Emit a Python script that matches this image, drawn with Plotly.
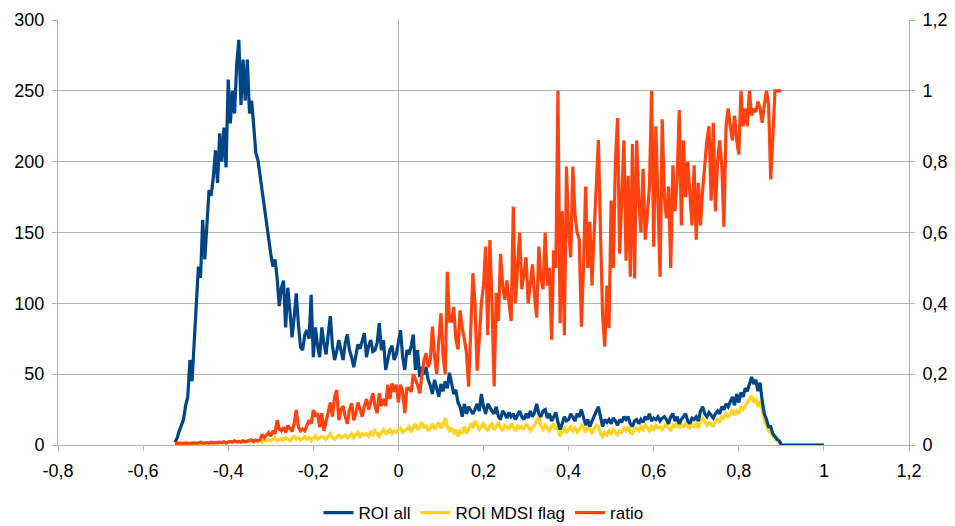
import numpy as np
import plotly.graph_objects as go

# x bins: -0.525 .. 1.0 in steps of 0.005
X_START = -0.525
X_STEP = 0.005

roi_all = [
    2, 5, 10, 14, 18, 28, 34, 60, 45, 72,
    100, 126, 118, 159, 131, 154, 180, 176, 189, 208,
    185, 220, 200, 224, 196, 258, 227, 250, 234, 269,
    286, 240, 272, 243, 272, 234, 243, 225, 206, 201,
    190, 178, 165, 154, 142, 135, 126, 131, 118, 98,
    111, 116, 83, 111, 95, 76, 90, 107, 85, 69,
    67, 78, 81, 75, 106, 62, 83, 70, 62, 83,
    72, 64, 78, 91, 70, 60, 66, 74, 67, 60,
    72, 78, 67, 62, 55, 64, 71, 68, 74, 79,
    62, 70, 74, 66, 67, 72, 86, 67, 74, 53,
    60, 67, 70, 60, 64, 72, 81, 62, 53, 67,
    64, 70, 78, 53, 67, 48, 55, 50, 55, 46,
    42, 36, 46, 40, 34, 43, 38, 45, 40, 51,
    42, 36, 39, 30, 27, 20, 29, 22, 27, 24,
    22, 25, 29, 24, 36, 27, 22, 29, 26, 24,
    22, 27, 20, 18, 24, 22, 19, 23, 20, 22,
    18, 21, 24, 20, 18, 22, 19, 24, 20, 23,
    29, 22, 20, 24, 25, 19, 22, 17, 20, 23,
    16, 11, 15, 20, 17, 18, 22, 19, 17, 22,
    20, 25, 19, 14, 18, 13, 17, 20, 23, 27,
    20, 13, 18, 16, 18, 15, 19, 17, 14, 18,
    16, 20, 18, 20, 15, 13, 17, 18, 15, 18,
    16, 20, 18, 22, 17, 19, 18, 20, 17, 19,
    20, 18, 15, 20, 22, 17, 20, 15, 18, 20,
    22, 17, 15, 19, 18, 20, 17, 24, 27, 22,
    20, 23, 21, 19, 22, 24, 22, 27, 25, 29,
    27, 31, 34, 28, 36, 30, 37, 34, 40, 38,
    44, 48, 43, 46, 38, 44, 31, 22, 18, 13,
    13, 8, 6, 4, 3, 0, 0, 0, 0, 0,
    0, 0, 0, 0, 0, 0, 0, 0, 0, 0,
    0, 0, 0, 0, 0, 0,
]

roi_mdsi = [
    0.5, 1, 0.5, 1, 1, 0.5, 1, 1, 0.5, 1,
    1, 1, 2, 1, 1, 1.5, 1, 2, 1, 1.5,
    1, 2, 1.5, 2, 1, 2, 2.5, 2, 3, 2,
    2.5, 2, 3, 2, 2.5, 3, 3.5, 2, 3, 2.5,
    3, 2, 4, 3, 3.5, 3, 4, 5, 3, 4,
    4.5, 3.5, 5, 4, 3, 5, 6, 4, 5, 3.5,
    5, 6, 4, 5.5, 3, 5, 6.5, 4, 5, 6,
    5, 4, 6, 8, 5, 4, 5.5, 7, 5, 6,
    7, 5, 6, 8, 5, 7, 9, 6, 8, 7,
    8, 6, 9, 7, 10, 8, 6, 9, 11, 8,
    9, 11, 8, 10, 9, 11, 12, 9, 10, 11,
    13, 10, 12, 15, 11, 13, 16, 12, 14, 10,
    12, 15, 11, 13, 16, 12, 14, 19, 13, 10,
    12, 8, 11, 6, 10, 9, 13, 8, 11, 15,
    12, 17, 14, 11, 13, 16, 12, 10, 14, 15,
    11, 13, 16, 12, 10, 14, 13, 11, 15, 12,
    10, 14, 12, 13, 11, 15, 13, 10, 12, 14,
    17, 20, 13, 11, 14, 12, 10, 13, 15, 11,
    13, 6, 10, 12, 9, 11, 13, 10, 12, 9,
    11, 14, 12, 9, 13, 11, 8, 12, 14, 13,
    8, 6, 9, 7, 10, 8, 11, 9, 7, 10,
    9, 12, 10, 13, 9, 8, 11, 12, 10, 13,
    11, 14, 12, 10, 13, 11, 14, 12, 13, 11,
    13, 15, 12, 10, 14, 13, 16, 12, 14, 13,
    15, 13, 12, 14, 13, 15, 12, 17, 19, 16,
    14, 16, 15, 13, 17, 18, 16, 20, 19, 22,
    20, 22, 25, 21, 24, 22, 27, 25, 28, 30,
    32, 35, 30, 33, 27, 31, 25, 18, 14, 10,
    9, 6, 4, 3, 2, 0, 0, 0, 0, 0,
    0, 0, 0, 0, 0, 0, 0, 0, 0, 0,
    0, 0, 0, 0, 0, 0,
]

ratio = [
    0.005, 0.004, 0.006, 0.005, 0.004, 0.006, 0.005, 0.004, 0.006, 0.005,
    0.006, 0.005, 0.008, 0.005, 0.006, 0.007, 0.005, 0.008, 0.006, 0.007,
    0.006, 0.008, 0.007, 0.009, 0.006, 0.008, 0.010, 0.008, 0.012, 0.009,
    0.010, 0.008, 0.012, 0.009, 0.011, 0.013, 0.015, 0.010, 0.014, 0.012,
    0.015, 0.030, 0.020, 0.028, 0.035, 0.025, 0.040, 0.032, 0.070, 0.045,
    0.040, 0.050, 0.035, 0.055, 0.045, 0.038, 0.060, 0.099, 0.050, 0.040,
    0.045, 0.040, 0.055, 0.070, 0.060, 0.099, 0.080, 0.090, 0.050, 0.090,
    0.040, 0.070, 0.100, 0.120, 0.080, 0.136, 0.155, 0.070, 0.100, 0.110,
    0.080, 0.060, 0.100, 0.118, 0.070, 0.090, 0.120, 0.100, 0.080, 0.110,
    0.130, 0.100, 0.120, 0.146, 0.110, 0.090, 0.146, 0.110, 0.130, 0.110,
    0.170, 0.130, 0.174, 0.150, 0.170, 0.120, 0.170, 0.150, 0.090, 0.160,
    0.160, 0.150, 0.200, 0.184, 0.170, 0.146, 0.200, 0.240, 0.259, 0.220,
    0.240, 0.334, 0.250, 0.200, 0.300, 0.372, 0.250, 0.200, 0.489, 0.350,
    0.350, 0.390, 0.300, 0.270, 0.380, 0.330, 0.300, 0.260, 0.165, 0.300,
    0.485, 0.400, 0.210, 0.300, 0.400, 0.450, 0.560, 0.310, 0.579, 0.400,
    0.165, 0.430, 0.350, 0.540, 0.450, 0.410, 0.465, 0.400, 0.350, 0.673,
    0.400, 0.500, 0.600, 0.440, 0.480, 0.530, 0.400, 0.450, 0.510, 0.420,
    0.360, 0.560, 0.470, 0.440, 0.600, 0.450, 0.500, 0.297, 0.550, 0.500,
    1.000, 0.344, 0.660, 0.310, 0.786, 0.600, 0.530, 0.786, 0.650, 0.600,
    0.580, 0.334, 0.500, 0.730, 0.500, 0.630, 0.450, 0.600, 0.760, 0.861,
    0.600, 0.362, 0.278, 0.450, 0.330, 0.690, 0.500, 0.800, 0.923, 0.540,
    0.700, 0.860, 0.520, 0.760, 0.475, 0.850, 0.470, 0.860, 0.690, 0.600,
    0.780, 0.580, 0.650, 0.730, 1.000, 0.560, 0.900, 0.690, 0.475, 0.920,
    0.700, 0.640, 0.730, 0.500, 0.790, 0.660, 0.750, 0.946, 0.620, 0.860,
    0.700, 0.800, 0.720, 0.620, 0.790, 0.580, 0.740, 0.620, 0.720, 0.790,
    0.860, 0.900, 0.690, 0.910, 0.660, 0.800, 0.860, 0.790, 0.616, 0.900,
    0.950, 0.900, 0.860, 0.930, 0.860, 0.820, 1.000, 0.900, 0.950, 0.900,
    1.000, 0.930, 0.950, 0.940, 0.970, 0.950, 0.910, 0.960, 1.000, 0.960,
    0.750, 0.870, 1.000, 1.000, 1.000, 1.000, None, None, None, None,
    None, None, None, None, None, None, None, None, None, None,
    None, None, None, None, None, None,
]

x = [round(X_START + i * X_STEP, 4) for i in range(len(roi_all))]

X_TICKS = [-0.8, -0.6, -0.4, -0.2, 0, 0.2, 0.4, 0.6, 0.8, 1, 1.2]
X_TICK_LABELS = ["-0,8", "-0,6", "-0,4", "-0,2", "0", "0,2", "0,4", "0,6", "0,8", "1", "1,2"]
Y_TICKS = [0, 50, 100, 150, 200, 250, 300]
Y2_TICKS = [0, 0.2, 0.4, 0.6, 0.8, 1, 1.2]
Y2_TICK_LABELS = ["0", "0,2", "0,4", "0,6", "0,8", "1", "1,2"]

BLUE = "#004586"
YELLOW = "#ffd320"
RED = "#ff420e"
GRID = "#b3b3b3"
FONT = "Liberation Sans, Arial, sans-serif"

fig = go.Figure()
# yellow drawn first so the blue line lies over it; legend order kept by legendrank
fig.add_trace(go.Scatter(x=x, y=roi_mdsi, name="ROI MDSI flag", mode="lines",
                         legendrank=2, line=dict(color=YELLOW, width=3.2)))
fig.add_trace(go.Scatter(x=x, y=roi_all, name="ROI all", mode="lines",
                         legendrank=1, line=dict(color=BLUE, width=3.2)))
fig.add_trace(go.Scatter(x=x, y=ratio, name="ratio", mode="lines", yaxis="y2",
                         legendrank=3, line=dict(color=RED, width=3.2),
                         connectgaps=False))

fig.update_layout(
    width=955, height=526,
    margin=dict(l=58, r=46, t=20, b=81, autoexpand=False),
    paper_bgcolor="white", plot_bgcolor="white",
    font=dict(family=FONT, size=18, color="#000000"),
    showlegend=True,
    legend=dict(orientation="h", x=0.5, xanchor="center", y=-0.118, yanchor="top",
                font=dict(size=17), itemwidth=30, traceorder="normal",
                bgcolor="rgba(0,0,0,0)"),
    xaxis=dict(range=[-0.8, 1.2], tickvals=X_TICKS, ticktext=X_TICK_LABELS,
               ticks="outside", ticklen=5,
               tickcolor=GRID, showline=True, linecolor=GRID, linewidth=1,
               showgrid=False, zeroline=True, zerolinecolor=GRID, zerolinewidth=1,
               fixedrange=True, ticklabelstandoff=4),
    yaxis=dict(range=[0, 300], tickvals=Y_TICKS, ticks="outside", ticklen=5,
               tickcolor=GRID, showline=True, linecolor=GRID, linewidth=1,
               showgrid=True, gridcolor=GRID, gridwidth=1, zeroline=False,
               ticklabelstandoff=4),
    yaxis2=dict(range=[0, 1.2], tickvals=Y2_TICKS, ticktext=Y2_TICK_LABELS,
                overlaying="y", side="right",
                ticks="outside", ticklen=5, tickcolor=GRID, showline=True,
                linecolor=GRID, linewidth=1, showgrid=False, zeroline=False,
                ticklabelstandoff=4),
)

fig.write_html("out.html")
